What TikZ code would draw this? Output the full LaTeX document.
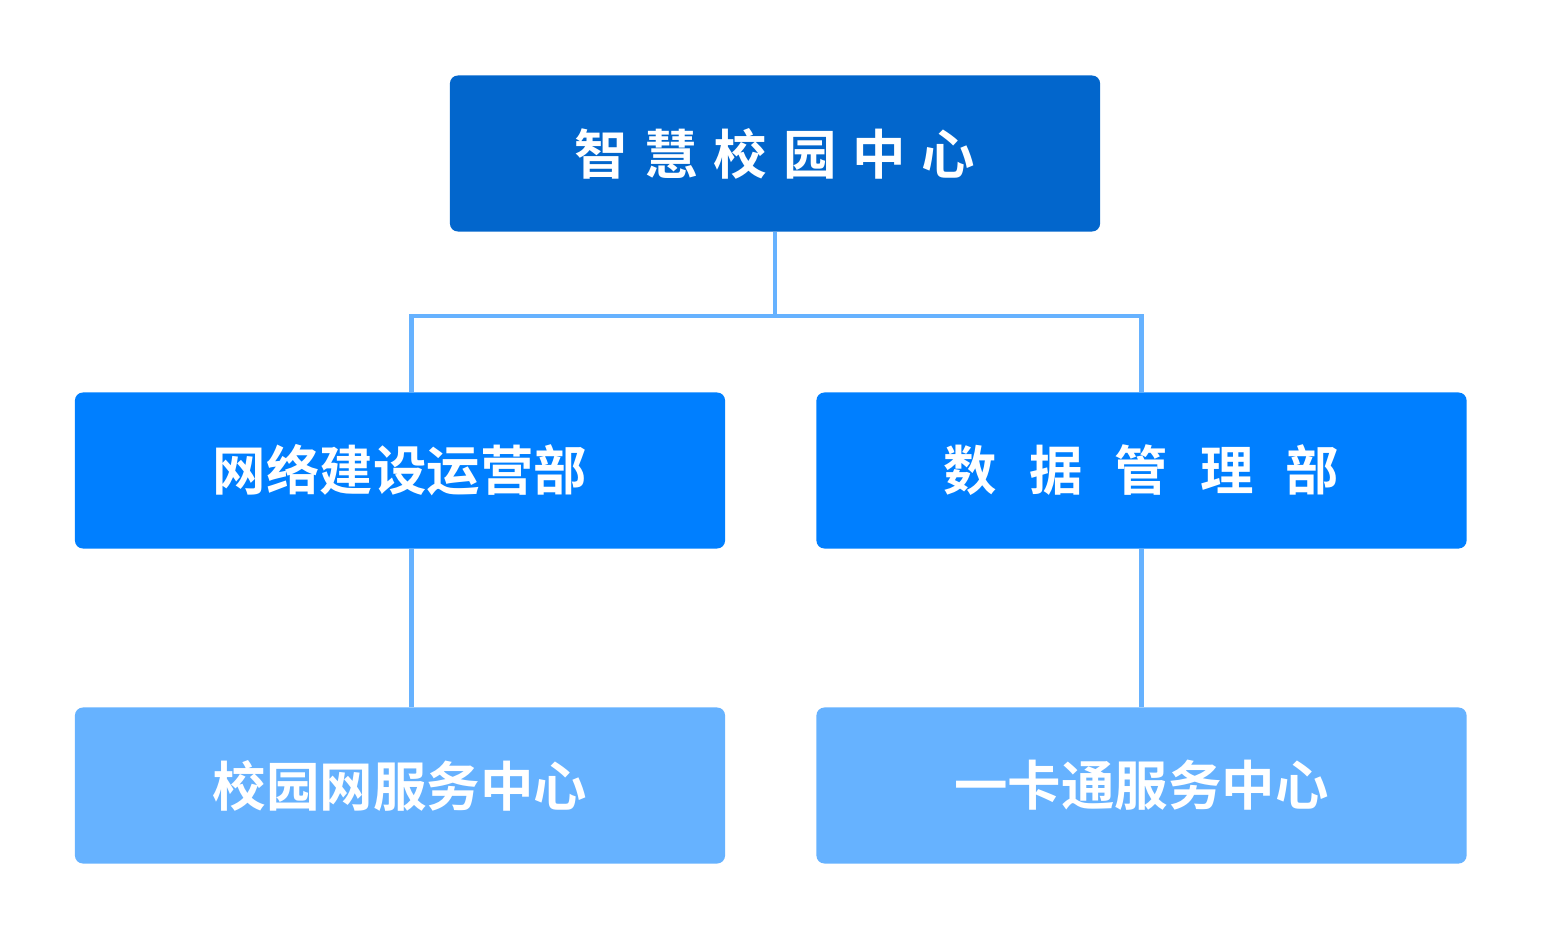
\documentclass[tikz,border=0pt]{standalone}
\usepackage{fontspec}
\newfontfamily\cjk{Noto Sans CJK SC Bold}
\usepackage{tikz}
\usetikzlibrary{positioning}
\definecolor{topColor}{RGB}{2,102,204}
\definecolor{midColor}{RGB}{0,127,255}
\definecolor{lowColor}{RGB}{102,178,255}
\tikzstyle{chart} = [x = 0.025cm, y = -0.025cm]
\tikzstyle{unitBox} = [draw=none, rounded corners = .2cm, minimum width = 16.25cm, minimum height = 3.9cm, text=white, font=\cjk\fontsize{38}{40}\selectfont]
\tikzstyle{linkLine} = [color=lowColor, line width = 3.5pt]
\newcommand{\spread}[1]{\hspace{#1}}
\begin{document}
\begin{tikzpicture}[chart]
  \useasboundingbox (0,0) rectangle (1542,940);
  \node [unitBox, fill=topColor] (center) at (775,153.5) {智\spread{.3em}慧\spread{.3em}校\spread{.3em}园\spread{.3em}中\spread{.3em}心};
  \node [unitBox, fill=midColor] (network) at (400,470.5) {网络建设运营部};
  \node [unitBox, fill=midColor] (data) at (1141.5,470.5) {数\spread{.6em}据\spread{.6em}管\spread{.6em}理\spread{.6em}部};
  \node [unitBox, fill=lowColor] (campus) at (400,785.5) {校园网服务中心};
  \node [unitBox, fill=lowColor] (card) at (1141.5,785.5) {一卡通服务中心};
  % connectors
  \coordinate (split) at (775,316);
  \draw [linkLine] (center.south) -- (split);
  \draw [linkLine] (split) -| ([xshift=8]network.north);
  \draw [linkLine] (split) -| (data.north);
  \draw [linkLine] ([xshift=8]network.south) -- ([xshift=8]campus.north);
  \draw [linkLine] (data.south) -- (card.north);
\end{tikzpicture}
\end{document}
